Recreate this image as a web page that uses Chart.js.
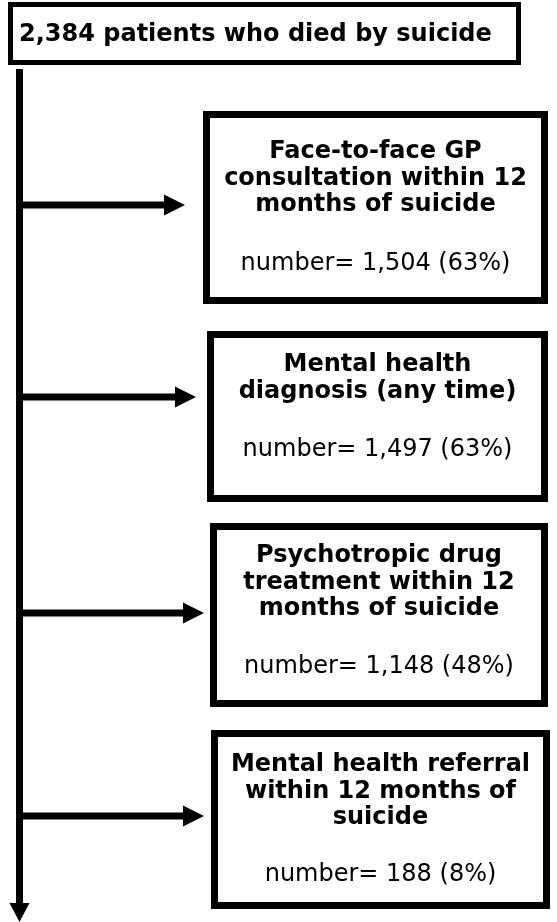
<!DOCTYPE html>
<html>
<head>
<meta charset="utf-8">
<script src="https://cdn.jsdelivr.net/npm/chart.js@4.4.0/dist/chart.umd.min.js"></script>
<style>
  html, body { margin: 0; padding: 0; background: #fff; }
  #wrap { width: 557px; height: 922px; }
</style>
</head>
<body>
<div id="wrap"><canvas id="flow" width="557" height="922"></canvas></div>
<script>
// values
const totalPatients = 2384;
const totalLabel = "patients who died by suicide";
const stepTitles = [
  ["Face-to-face GP", "consultation within 12", "months of suicide"],
  ["Mental health", "diagnosis (any time)"],
  ["Psychotropic drug", "treatment within 12", "months of suicide"],
  ["Mental health referral", "within 12 months of", "suicide"],
];
const stepCounts = [1504, 1497, 1148, 188];
const stepPercents = [63, 63, 48, 8];

const fmt = (n) => n.toLocaleString("en-US");

// layout of the boxes, in chart units (same as pixels here)
const topBox = { x0: 8, x1: 521, y0: 2, y1: 65, lw: 5 };
const boxes = [
  { x0: 203, x1: 548, y0: 111, y1: 304, arrowY: 205, tip: 185, textY: 158, numY: 270 },
  { x0: 207, x1: 548, y0: 331, y1: 502, arrowY: 397, tip: 196, textY: 371, numY: 456 },
  { x0: 210, x1: 548, y0: 523, y1: 707, arrowY: 613, tip: 204, textY: 562, numY: 673 },
  { x0: 211, x1: 550, y0: 730, y1: 909, arrowY: 816, tip: 204, textY: 771, numY: 881 },
];
const spineX = 19.5;

const flowPlugin = {
  id: "flow",
  afterDraw(chart) {
    const ctx = chart.ctx;
    const sx = chart.scales.x, sy = chart.scales.y;
    const X = (v) => sx.getPixelForValue(v);
    const Y = (v) => sy.getPixelForValue(v);
    ctx.save();
    ctx.fillStyle = "#000";
    ctx.strokeStyle = "#000";

    // top box
    ctx.lineWidth = topBox.lw;
    const h = topBox.lw / 2;
    ctx.strokeRect(X(topBox.x0 + h), Y(topBox.y0 + h), X(topBox.x1) - X(topBox.x0) - topBox.lw, Y(topBox.y1) - Y(topBox.y0) - topBox.lw);
    ctx.font = "bold 24px 'DejaVu Sans', Verdana, sans-serif";
    ctx.textBaseline = "alphabetic";
    ctx.textAlign = "left";
    ctx.fillText(fmt(totalPatients) + " " + totalLabel, X(19), Y(41));

    // vertical spine with arrow head
    ctx.fillRect(X(spineX - 3.5), Y(69), 7, Y(905) - Y(69));
    ctx.beginPath();
    ctx.moveTo(X(spineX - 10), Y(903));
    ctx.lineTo(X(spineX + 10), Y(903));
    ctx.lineTo(X(spineX), Y(922));
    ctx.closePath();
    ctx.fill();

    boxes.forEach((b, i) => {
      // arrow
      ctx.fillRect(X(spineX), Y(b.arrowY - 3.5), X(b.tip - 19) - X(spineX), 7);
      ctx.beginPath();
      ctx.moveTo(X(b.tip - 21), Y(b.arrowY - 10.5));
      ctx.lineTo(X(b.tip), Y(b.arrowY));
      ctx.lineTo(X(b.tip - 21), Y(b.arrowY + 10.5));
      ctx.closePath();
      ctx.fill();

      // box
      const lw = 7;
      ctx.lineWidth = lw;
      ctx.strokeRect(X(b.x0 + lw / 2), Y(b.y0 + lw / 2), X(b.x1) - X(b.x0) - lw, Y(b.y1) - Y(b.y0) - lw);

      const cx = X((b.x0 + b.x1) / 2);
      ctx.textAlign = "center";
      ctx.font = "bold 24px 'DejaVu Sans', Verdana, sans-serif";
      stepTitles[i].forEach((line, j) => {
        ctx.fillText(line, cx, Y(b.textY + j * 26.5));
      });
      ctx.font = "24px 'DejaVu Sans', Verdana, sans-serif";
      ctx.fillText("number= " + fmt(stepCounts[i]) + " (" + stepPercents[i] + "%)", cx, Y(b.numY));
    });
    ctx.restore();
  },
};

new Chart(document.getElementById("flow").getContext("2d"), {
  type: "scatter",
  data: { datasets: [{ data: [], pointRadius: 0 }] },
  options: {
    responsive: false,
    animation: false,
    layout: { padding: 0 },
    plugins: { legend: { display: false }, tooltip: { enabled: false } },
    scales: {
      x: { type: "linear", min: 0, max: 557, display: false },
      y: { type: "linear", min: 0, max: 922, reverse: true, display: false },
    },
  },
  plugins: [flowPlugin],
});
</script>
</body>
</html>
